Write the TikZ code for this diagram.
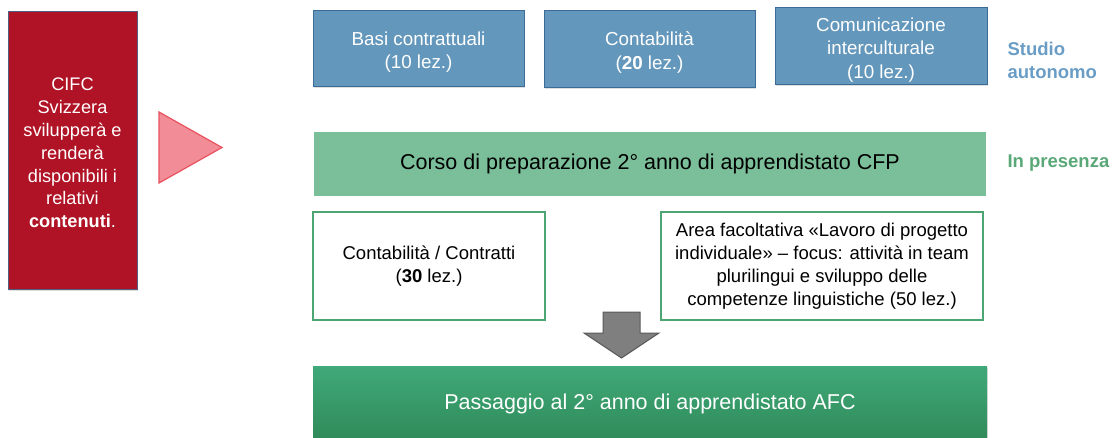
\documentclass[tikz,border=0pt]{standalone}
\usepackage{fontspec}
\setmainfont{Liberation Sans}
\usetikzlibrary{shadows}
\definecolor{redbox}{HTML}{B01325}
\definecolor{redborder}{HTML}{4F6080}
\definecolor{trifill}{HTML}{F28D97}
\definecolor{triborder}{HTML}{E8525F}
\definecolor{bluefill}{HTML}{6497BC}
\definecolor{blueborder}{HTML}{3D6B98}
\definecolor{bluetext}{HTML}{6A9DC6}
\definecolor{greenfill}{HTML}{7ABF99}
\definecolor{greentext}{HTML}{5AA878}
\definecolor{greenborder}{HTML}{4CA572}
\definecolor{gtop}{HTML}{40A979}
\definecolor{gbot}{HTML}{2F8A58}
\definecolor{arrowfill}{HTML}{7F7F7F}
\definecolor{arrowborder}{HTML}{5A5A5A}
\tikzset{
  x=1pt,y=-1pt,
  softshadow/.style={drop shadow={opacity=0.25,shadow xshift=1pt,shadow yshift=-1.5pt}},
  bluebox/.style={draw=blueborder,line width=1pt,fill=bluefill,softshadow},
  bluetxt/.style={text=white,align=center,font=\fontsize{18.8}{23.5}\selectfont},
  whitebox/.style={draw=greenborder,line width=1.6pt,fill=white,align=center,font=\fontsize{18.5}{23}\selectfont},
  sidelabel/.style={anchor=west,align=left,font=\bfseries\fontsize{18.5}{23}\selectfont},
}
\begin{document}
\begin{tikzpicture}
\useasboundingbox (0,0) rectangle (1113,438);
% red box
\node (redbg) [draw=redborder,line width=0.8pt,fill=redbox,softshadow,minimum width=129,minimum height=278] at (72.5,150) {};
\node (red) at (72.5,153) [text=white,align=center,font=\fontsize{18.2}{22.8}\selectfont] {CIFC\\Svizzera\\svilupperà e\\renderà\\disponibili i\\relativi\\\textbf{contenuti}.};
% triangle
\draw[draw=triborder,line width=1.2pt,fill=trifill] (159,112) -- (159,183) -- (222,147.5) -- cycle;
% blue boxes
\node (b1) [bluebox,minimum width=211,minimum height=76] at (418.5,49) {};
\node (b1t) [bluetxt] at ([yshift=-3pt]b1.center) {Basi contrattuali\\(10 lez.)};
\node (b2) [bluebox,minimum width=211,minimum height=77] at (649.5,49.5) {};
\node (b2t) [bluetxt] at ([yshift=-3pt]b2.center) {Contabilità\\(\textbf{20} lez.)};
\node (b3) [bluebox,minimum width=212,minimum height=77] at (881,46.5) {};
\node (b3t) [bluetxt] at ([yshift=-3.5pt]b3.center) {Comunicazione\\interculturale\\(10 lez.)};
\node (sa) [sidelabel,text=bluetext] at (1004,60.5) {Studio\\autonomo};
% green bar
\node (gb) [draw=white,line width=3.5pt,fill=greenfill,softshadow,minimum width=675,minimum height=68,font=\fontsize{21.5}{25}\selectfont] at (650,164) {Corso di preparazione 2° anno di apprendistato CFP};
\node (ip) [sidelabel,text=greentext] at (1004,163) {In presenza};
% white boxes
\node (w1) [whitebox,minimum width=232,minimum height=108] at (429,266) {Contabilità / Contratti\\(\textbf{30} lez.)};
\node (w2) [whitebox,minimum width=322,minimum height=108] at (822,266) {Area facoltativa «Lavoro di progetto\\individuale» – focus: attività in team\\plurilingui e sviluppo delle\\competenze linguistiche (50 lez.)};
% down arrow
\draw[draw=arrowborder,line width=1pt,fill=arrowfill] (603,312) -- (640,312) -- (640,333) -- (659,333) -- (621.5,358) -- (584,333) -- (603,333) -- cycle;
% bottom bar
\node (pb) [top color=gtop,bottom color=gbot,draw=none,softshadow,minimum width=674,minimum height=76,text=white,font=\fontsize{21.5}{25}\selectfont] at (650,404) {Passaggio al 2° anno di apprendistato AFC};
\end{tikzpicture}
\end{document}
